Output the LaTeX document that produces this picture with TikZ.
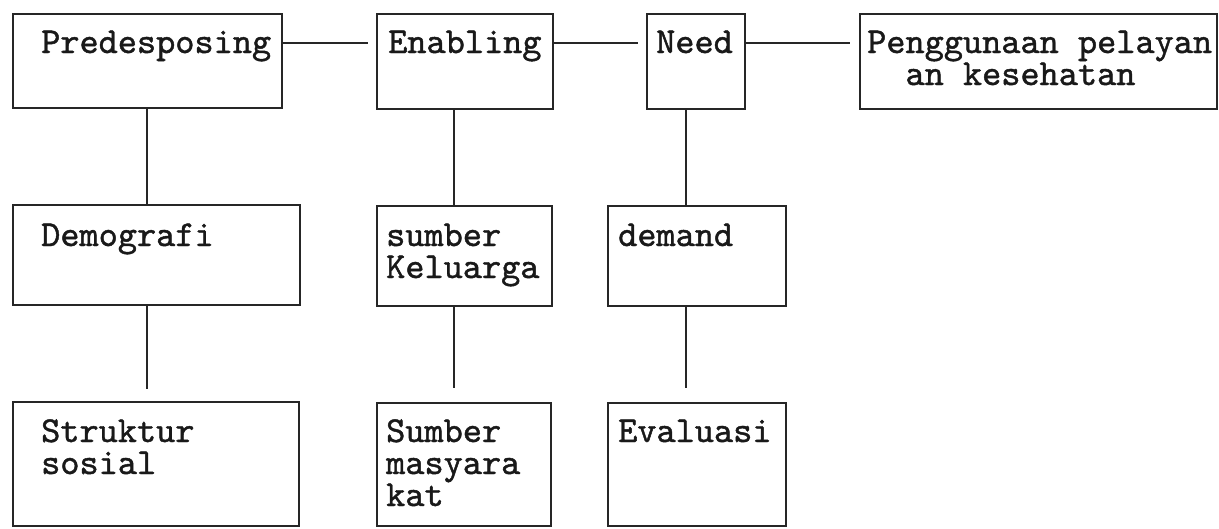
\documentclass[tikz,border=0pt]{standalone}
\usepackage{fontspec}
\newfontfamily\courlike{lmmono10-regular.otf}[FakeBold=1.2]
\usetikzlibrary{calc}
\newcommand{\lines}[1]{\begin{tabular}[t]{@{}l@{}}#1\end{tabular}}
\begin{document}
\begin{tikzpicture}[x=1pt,y=-1pt,
  box/.style={draw=black!85, line width=1.5pt, anchor=north west, inner sep=0pt},
  lbl/.style={anchor=base west, inner sep=0pt, text=black!90, font=\courlike\fontsize{36.5}{32}\selectfont},
  conn/.style={draw=black!85, line width=1.4pt}]
\useasboundingbox (0,0) rectangle (1219,528);
\fill[white] (0,0) rectangle (1219,528);

% row 1
\node[box, minimum width=269pt, minimum height=94pt] (pre) at (12,13) {};
\node[box, minimum width=176pt, minimum height=95pt] (ena) at (376,13) {};
\node[box, minimum width=98pt, minimum height=95pt] (need) at (646,13) {};
\node[box, minimum width=357pt, minimum height=95pt] (peng) at (859,13) {};
% row 2
\node[box, minimum width=287pt, minimum height=100pt] (dem) at (12,204) {};
\node[box, minimum width=175pt, minimum height=100pt] (skel) at (376,205) {};
\node[box, minimum width=178pt, minimum height=100pt] (dmd) at (607,205) {};
% row 3
\node[box, minimum width=286pt, minimum height=124pt] (str) at (12,401) {};
\node[box, minimum width=174pt, minimum height=123pt] (smas) at (376,402) {};
\node[box, minimum width=178pt, minimum height=123pt] (eva) at (607,402) {};

% labels
\node[lbl] (tpre) at (41,53) {Predesposing};
\node[lbl] (tena) at (388,53) {Enabling};
\node[lbl] (tneed) at (656,53) {Need};
\node[lbl] (tpeng) at (867,53) {\lines{Penggunaan pelayan\\\phantom{aa}an kesehatan}};
\node[lbl] (tdem) at (41,246) {Demografi};
\node[lbl] (tskel) at (386,246) {\lines{sumber\\Keluarga}};
\node[lbl] (tdmd) at (618,246) {demand};
\node[lbl] (tstr) at (41,442) {\lines{Struktur\\sosial}};
\node[lbl] (tsmas) at (386,442) {\lines{Sumber\\masyara\\kat}};
\node[lbl] (teva) at (618,442) {Evaluasi};

% horizontal connectors
\draw[conn] ($(pre.north east)+(0,30)$) -- ($(ena.north west)+(-8,30)$);
\draw[conn] ($(ena.north east)+(0,30)$) -- ($(need.north west)+(-8,30)$);
\draw[conn] ($(need.north east)+(0,30)$) -- ($(peng.north west)+(-9,30)$);

% vertical connectors
\coordinate (v1) at (147,0);
\coordinate (v2) at (454,0);
\coordinate (v3) at (686,0);
\draw[conn] (v1 |- pre.south) -- (v1 |- dem.north);
\draw[conn] (v1 |- dem.south) -- ($(v1 |- str.north)+(0,-12)$);
\draw[conn] (v2 |- ena.south) -- (v2 |- skel.north);
\draw[conn] (v2 |- skel.south) -- ($(v2 |- smas.north)+(0,-14)$);
\draw[conn] (v3 |- need.south) -- (v3 |- dmd.north);
\draw[conn] (v3 |- dmd.south) -- ($(v3 |- eva.north)+(0,-14)$);
\end{tikzpicture}
\end{document}
